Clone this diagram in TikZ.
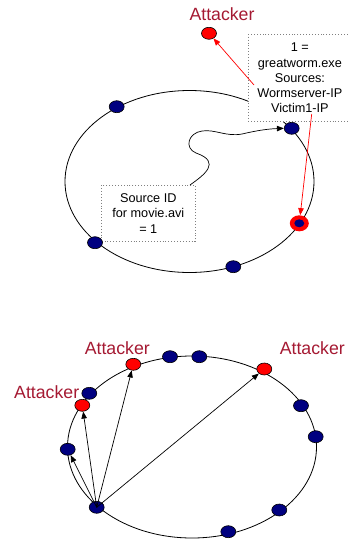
\documentclass[tikz,border=0pt]{standalone}
\usepackage{fontspec}
\setmainfont{Liberation Sans}
\usetikzlibrary{shapes.geometric,arrows.meta}
\definecolor{navyblue}{RGB}{0,0,128}
\definecolor{attred}{RGB}{165,25,50}
\tikzset{
  bn/.style={ellipse, draw=black, line width=0.6pt, fill=navyblue, minimum width=15pt, minimum height=12pt, inner sep=0pt},
  rn/.style={ellipse, draw=black, line width=0.6pt, fill=red, minimum width=15pt, minimum height=12pt, inner sep=0pt},
  ring/.style={ellipse, draw=none, fill=red, minimum width=19pt, minimum height=16pt, inner sep=0pt},
  inner/.style={ellipse, draw=none, fill=navyblue, minimum width=10pt, minimum height=8pt, inner sep=0pt},
  ring/.style={ellipse, fill=red, minimum width=19pt, minimum height=16pt, inner sep=0pt},
  infobox/.style={draw=gray, dotted, line width=0.9pt, fill=white, align=center, inner sep=0pt,
    font=\fontsize{12.7}{15.3}\selectfont},
  attlabel/.style={text=attred, font=\fontsize{17.7}{20}\selectfont, inner sep=0pt},
  ring line/.style={draw=black, line width=0.8pt},
  blk/.style={-{Triangle[length=7pt,width=5.5pt]}, line width=0.7pt, black},
  redarr/.style={-{Triangle[length=7pt,width=5.5pt]}, line width=0.7pt, red},
}
\begin{document}
\begin{tikzpicture}[x=1pt,y=-1pt]
\useasboundingbox (0,0) rectangle (349,542);
% ---------- top ring ----------
\draw[ring line] (189.5,181.5) ellipse [x radius=124.5, y radius=91];
\node[infobox, minimum width=103pt, minimum height=87.4pt] (box1) at (299.9,78)
  {1 =\\greatworm.exe\\Sources:\\Wormserver-IP\\Victim1-IP};
\node[infobox, minimum width=93.3pt, minimum height=56.7pt] (box2) at (148.3,213.3)
  {Source ID\\for movie.avi\\= 1};
\node[attlabel] (att0l) at (222,14) {Attacker};
\node[rn] (att0) at (209,33.3) {};
\node[bn] (t1) at (116.7,106.7) {};
\node[bn] (t2) at (291.7,128.3) {};
\node[ring] (vic) at (299.3,223.3) {};
\node[inner] (vicin) at (vic) {};
\node[bn] (t4) at (95,242.7) {};
\node[bn] (t5) at (233.3,266.7) {};
\coordinate (r1s) at (254,85);
\coordinate (r2s) at (311.7,114);
\coordinate (w0) at (190,185);
\draw[redarr] (r1s) -- (att0);
\draw[redarr] (r2s) -- (vic);
\draw[blk] (w0) .. controls (204,175) and (222,162) .. (196,153)
  .. controls (184,148) and (188,133) .. (202,131)
  .. controls (215,129) and (226,137) .. (242,134)
  .. controls (255,131) and (266,129) .. (t2.west);
% ---------- bottom ring ----------
\draw[ring line] (192,447) ellipse [x radius=124.5, y radius=91];
\node[attlabel] (a1l) at (117.3,348.3) {Attacker};
\node[attlabel] (a2l) at (312.3,348.3) {Attacker};
\node[attlabel] (a3l) at (46.7,392.3) {Attacker};
\node[rn] (a1) at (133.3,364.3) {};
\node[bn] (b1) at (170,356.7) {};
\node[bn] (b2) at (199.3,356.7) {};
\node[rn] (a2) at (264.3,369) {};
\node[bn] (b3) at (89.3,393.3) {};
\node[rn] (a3) at (82.3,405.3) {};
\node[bn] (b4) at (301,405.7) {};
\node[bn] (b5) at (315.7,436.7) {};
\node[bn] (b6) at (67.7,449.3) {};
\node[bn] (src) at (96.7,507.3) {};
\node[bn] (b8) at (279.3,510) {};
\node[bn] (b9) at (228.3,531.7) {};
\draw[blk] (src.center) -- (b6);
\draw[blk] (src.center) -- (a3);
\draw[blk] (src.center) -- (a1);
\draw[blk] (src.center) -- (a2);
\end{tikzpicture}
\end{document}
